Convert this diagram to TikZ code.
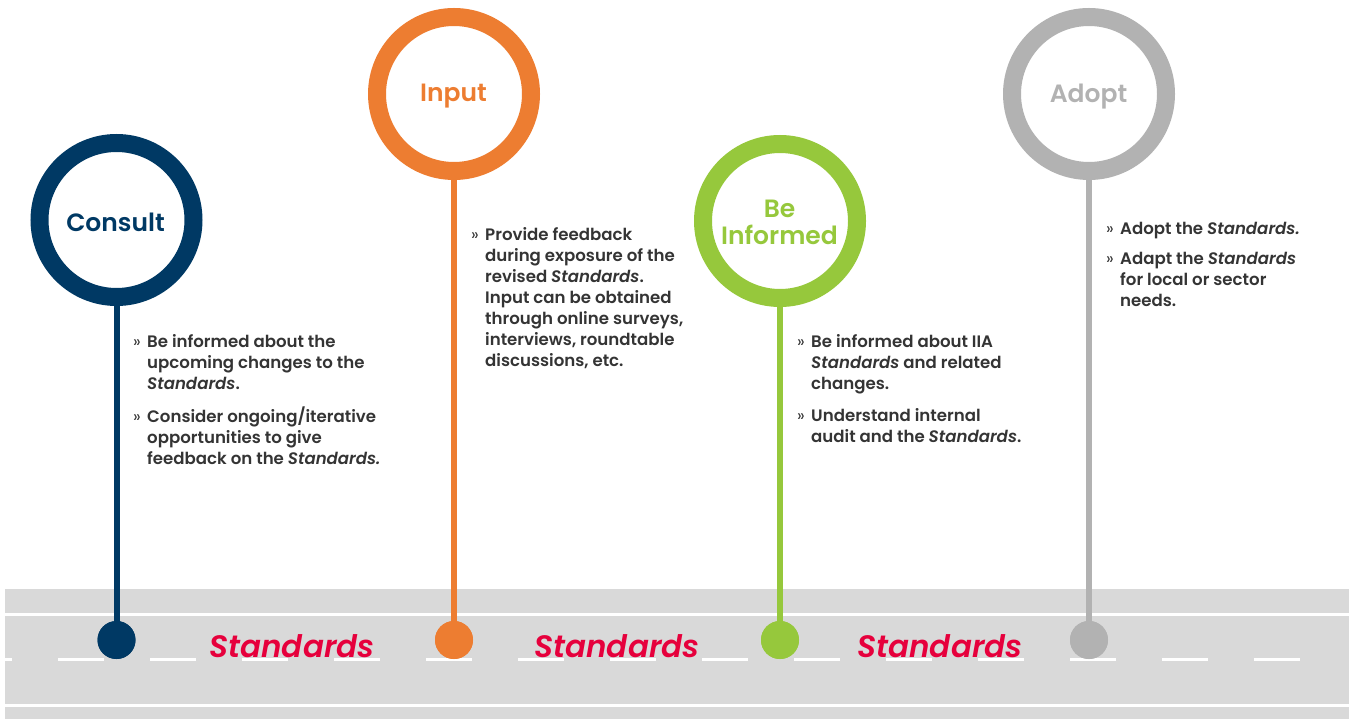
\documentclass[tikz,border=0pt]{standalone}
\usepackage{fontspec}
\setmainfont{Poppins}[BoldFont={Poppins SemiBold}, BoldItalicFont={Poppins SemiBold Italic}]
\definecolor{navy}{RGB}{0,57,100}
\definecolor{orng}{RGB}{237,125,49}
\definecolor{grn}{RGB}{150,200,60}
\definecolor{gry}{RGB}{178,178,178}
\definecolor{stdred}{RGB}{230,0,60}
\definecolor{txt}{RGB}{52,52,52}
\definecolor{road}{RGB}{217,217,217}
\newcommand{\bitem}[1]{\makebox[14pt][l]{\mdseries\raisebox{0.5pt}{»}}\begin{tabular}[t]{@{}l@{}}#1\end{tabular}}
\tikzset{
  ring/.style={circle, draw=#1, line width=18pt, minimum size=154pt, inner sep=0pt, fill=white},
  title/.style={text=#1, font=\fontsize{25}{28}\selectfont\bfseries, align=center, inner sep=0pt},
  dot/.style={circle, fill=#1, minimum size=38pt, inner sep=0pt},
  stem/.style={line width=6pt, draw=#1},
  body/.style={anchor=north west, inner sep=0pt, align=left, text=txt, font=\fontsize{16.6}{21}\selectfont\bfseries},
  stdlabel/.style={text=stdred, font=\fontsize{31}{32}\selectfont\bfseries\itshape, inner sep=0pt},
}
\begin{document}
\begin{tikzpicture}[x=1pt,y=-1pt]
\useasboundingbox (0,0) rectangle (1349,719);
% road
\fill[road] (5,589) rectangle (1349,719);
\draw[white, line width=3pt] (5,614) -- (1349,614);
\draw[white, line width=3pt] (5,705) -- (1349,705);
\draw[white, line width=3pt] (5,659) -- (12,659);
\foreach \k in {0,...,13} {
  \draw[white, line width=3pt] ({58+92*\k},659) -- ({104+92*\k},659);
}
% rings
\node[ring=navy] (c1) at (116.5,220) {};
\node[ring=orng] (c2) at (454,94) {};
\node[ring=grn]  (c3) at (780,221) {};
\node[ring=gry]  (c4) at (1089,94) {};
% dots
\node[dot=navy] (d1) at (116.5,640) {};
\node[dot=orng] (d2) at (454,640) {};
\node[dot=grn]  (d3) at (780,640) {};
\node[dot=gry]  (d4) at (1089,640) {};
% stems
\draw[stem=navy] (c1.south) -- (d1.center);
\draw[stem=orng] (c2.south) -- (d2.center);
\draw[stem=grn]  (c3.south) -- (d3.center);
\draw[stem=gry]  (c4.south) -- (d4.center);
% dots on top of stems
\fill[navy] (d1) circle (19pt);
\fill[orng] (d2) circle (19pt);
\fill[grn] (d3) circle (19pt);
\fill[gry] (d4) circle (19pt);
% titles
\node[title=navy] (l1) at (115.5,222) {Consult};
\node[title=orng] (l2) at (453.5,96.5) {Input};
\node[title=grn]  (l3) at (779.5,222.5) {Be\\[-1pt]Informed};
\node[title=gry]  (l4) at (1088.5,96.5) {Adopt};
% Standards labels
\node[stdlabel] (s1) at (292,646) {Standards};
\node[stdlabel] (s2) at (617,646) {Standards};
\node[stdlabel] (s3) at (940,646) {Standards};
% body texts
\node[body] (t1) at (133,333) {%
\bitem{Be informed about the\\upcoming changes to the\\\textit{Standards}.}\\[10pt]
\bitem{Consider ongoing/iterative\\opportunities to give\\feedback on the \textit{Standards.}}};
\node[body] (t2) at (471,226) {%
\bitem{Provide feedback\\during exposure of the\\revised \textit{Standards}.\\Input can be obtained\\through online surveys,\\interviews, roundtable\\discussions, etc.}};
\node[body] (t3) at (797,333) {%
\bitem{Be informed about IIA\\\textit{Standards} and related\\changes.}\\[10pt]
\bitem{Understand internal\\audit and the \textit{Standards}.}};
\node[body] (t4) at (1106,220) {%
\bitem{Adopt the \textit{Standards.}}\\[9pt]
\bitem{Adapt the \textit{Standards}\\for local or sector\\needs.}};
\end{tikzpicture}
\end{document}
